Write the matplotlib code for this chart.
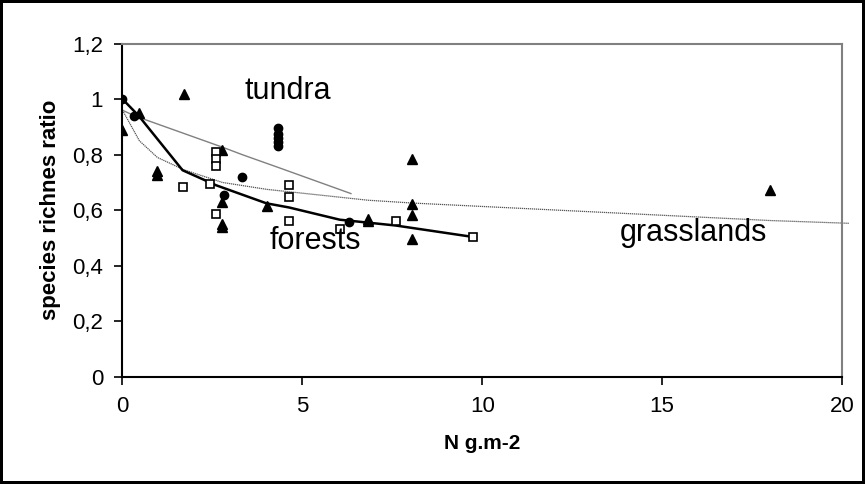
import matplotlib.pyplot as plt
from matplotlib.ticker import FuncFormatter

plt.rcParams['font.family'] = ['Liberation Sans', 'DejaVu Sans']

# tundra (filled circles)
tundra_x = [0, 0.33, 3.33, 4.33, 4.33, 4.33, 4.33, 4.33, 2.82, 6.3]
tundra_y = [1.0, 0.94, 0.72, 0.895, 0.875, 0.86, 0.845, 0.83, 0.654, 0.558]

# grasslands (filled triangles)
grass_x = [0, 0.47, 1.72, 0.97, 0.97, 2.78, 2.78, 2.78, 2.78, 4.02,
           6.83, 6.83, 8.05, 8.05, 8.05, 8.05, 18.0]
grass_y = [0.888, 0.951, 1.019, 0.74, 0.728, 0.816, 0.63, 0.55, 0.54, 0.614,
           0.57, 0.56, 0.786, 0.624, 0.582, 0.498, 0.672]

# forests (open squares)
forest_x = [1.67, 2.43, 2.6, 2.6, 2.6, 2.6, 4.63, 4.63, 4.63, 6.04, 7.6, 9.74]
forest_y = [0.684, 0.696, 0.81, 0.785, 0.759, 0.588, 0.69, 0.646, 0.562, 0.532, 0.562, 0.504]

# fitted curves
tundra_fit_x = [0, 0.33, 2.82, 3.33, 4.33, 6.35]
tundra_fit_y = [0.96, 0.94, 0.825, 0.80, 0.754, 0.66]
forest_fit_x = [0, 0.45, 1.67, 2.43, 2.6, 4.0, 4.63, 6.04, 7.6, 9.74]
forest_fit_y = [1.0, 0.94, 0.744, 0.70, 0.69, 0.625, 0.61, 0.566, 0.545, 0.504]
grass_fit_x = [0, 0.47, 0.97, 1.72, 2.78, 4.02, 6.83, 8.05, 18.0, 20.2]
grass_fit_y = [0.96, 0.85, 0.79, 0.745, 0.70, 0.675, 0.636, 0.626, 0.563, 0.553]

x_ticks = [0, 5, 10, 15, 20]
y_ticks = [0, 0.2, 0.4, 0.6, 0.8, 1.0, 1.2]

fig = plt.figure(figsize=(8.65, 4.84), dpi=100)
fig.patch.set_edgecolor('black')
fig.patch.set_linewidth(3)
ax = fig.add_axes([0.1416, 0.2211, 0.9734 - 0.1416, 0.9101 - 0.2211])

ax.plot(grass_fit_x, grass_fit_y, color='#555555', lw=0.9, ls=(0, (1, 0.6)), clip_on=False, zorder=2)
ax.plot(tundra_fit_x, tundra_fit_y, color='#808080', lw=1.0, zorder=2)
ax.plot(forest_fit_x, forest_fit_y, color='black', lw=1.8, zorder=2)

ax.plot(tundra_x, tundra_y, 'o', color='black', ms=6, ls='none', zorder=3)
ax.plot(grass_x, grass_y, '^', color='black', ms=7.5, ls='none', zorder=3)
ax.plot(forest_x, forest_y, 's', mfc='white', mec='black', mew=1.2, ms=6, ls='none', zorder=3)

ax.text(3.4, 1.0, 'tundra', fontsize=22, va='baseline')
ax.text(4.1, 0.459, 'forests', fontsize=22, va='baseline')
ax.text(13.82, 0.49, 'grasslands', fontsize=22, va='baseline')

ax.set_xlim(0, 20)
ax.set_ylim(0, 1.2)
ax.set_xticks(x_ticks)
ax.set_yticks(y_ticks)
ax.yaxis.set_major_formatter(FuncFormatter(lambda v, p: ('%g' % round(v, 1)).replace('.', ',')))
ax.tick_params(direction='out', length=6, width=1.2, labelsize=16, pad=8)

for s in ['top', 'right']:
    ax.spines[s].set_color('#808080')
    ax.spines[s].set_linewidth(1.5)
for s in ['left', 'bottom']:
    ax.spines[s].set_color('black')
    ax.spines[s].set_linewidth(1.5)

ax.set_xlabel('N g.m-2', fontsize=15, fontweight='bold', labelpad=12)
ax.set_ylabel('species richnes ratio', fontsize=16, fontweight='bold', labelpad=8)

fig.savefig('out.png', dpi=100, edgecolor=fig.get_edgecolor())
